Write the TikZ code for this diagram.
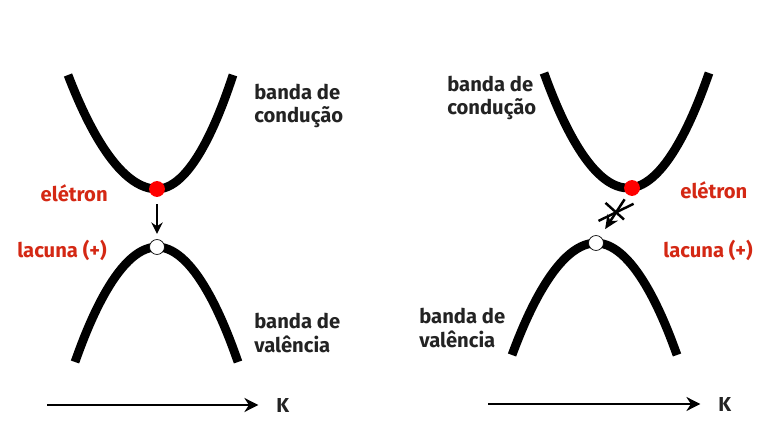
\documentclass[tikz,border=0pt]{standalone}
\usepackage{fontspec}
\setmainfont{Fira Sans}
\usetikzlibrary{arrows.meta,shapes.misc}
\definecolor{rood}{RGB}{212,40,20}
\definecolor{tekst}{RGB}{35,35,35}
\begin{document}
\begin{tikzpicture}[x=0.02cm,y=-0.02cm,
    band/.style={line width=5pt},
    elektron/.style={circle,fill=red,inner sep=0pt,minimum size=9pt},
    gat/.style={circle,draw,thin,fill=white,inner sep=0pt,minimum size=8.5pt},
    tekstje/.style={font=\bfseries\fontsize{11.5}{13.5}\selectfont,text=tekst,align=left,inner sep=0pt},
    roodje/.style={tekstje,text=rood},
    as/.style={line width=1pt,-{Stealth[length=8pt,width=8pt]}}]
    \useasboundingbox (0,0) rectangle (768,432);

    % links: directe overgang
    \draw[band] (68,75) parabola bend (157,189) (233,75);
    \draw[band] (75,362) parabola bend (157,247) (238,362);
    \node[elektron] (e1) at (157,189) {};
    \node[gat] (h1) at (157,247) {};
    \draw[line width=1pt,-{Stealth[length=6.5pt,width=6.5pt]},shorten <=4pt,shorten >=3pt] (e1) -- (h1);

    \node[tekstje,anchor=west] (cb1) at (254,106) {banda de\\condução};
    \node[tekstje,anchor=west] (vb1) at (254,333) {banda de\\valência};
    \node[roodje,anchor=east] (te1) at (108,193) {elétron};
    \node[roodje,anchor=east] (th1) at (107,250) {lacuna (+)};

    \coordinate (k1) at (47,405);
    \node[tekstje,anchor=west] (kk1) at (276,405) {K};
    \draw[as] (k1) -- ([xshift=-10pt]kk1.west);

    % rechts: indirecte overgang
    \draw[band] (544,73) parabola bend (628,188) (709,73);
    \draw[band] (512,355) parabola bend (596,243) (677,355);
    \node[elektron] (e2) at (632,188) {};
    \node[gat] (h2) at (596,243) {};
    \draw[line width=1.4pt,-{Stealth[length=8pt,width=7pt]},shorten <=3pt,shorten >=5pt] (e2) -- (h2)
        node[pos=0.42,cross out,draw,line width=1.4pt,minimum width=17pt,minimum height=11pt,rotate=-8] (x2) {};

    \node[tekstje,anchor=west] (cb2) at (447,98) {banda de\\condução};
    \node[tekstje,anchor=west] (vb2) at (419,328) {banda de\\valência};
    \node[roodje,anchor=west] (te2) at (680,190) {elétron};
    \node[roodje,anchor=west] (th2) at (663,250) {lacuna (+)};

    \coordinate (k2) at (488,404);
    \node[tekstje,anchor=west] (kk2) at (718,404) {K};
    \draw[as] (k2) -- ([xshift=-10pt]kk2.west);
\end{tikzpicture}
\end{document}
